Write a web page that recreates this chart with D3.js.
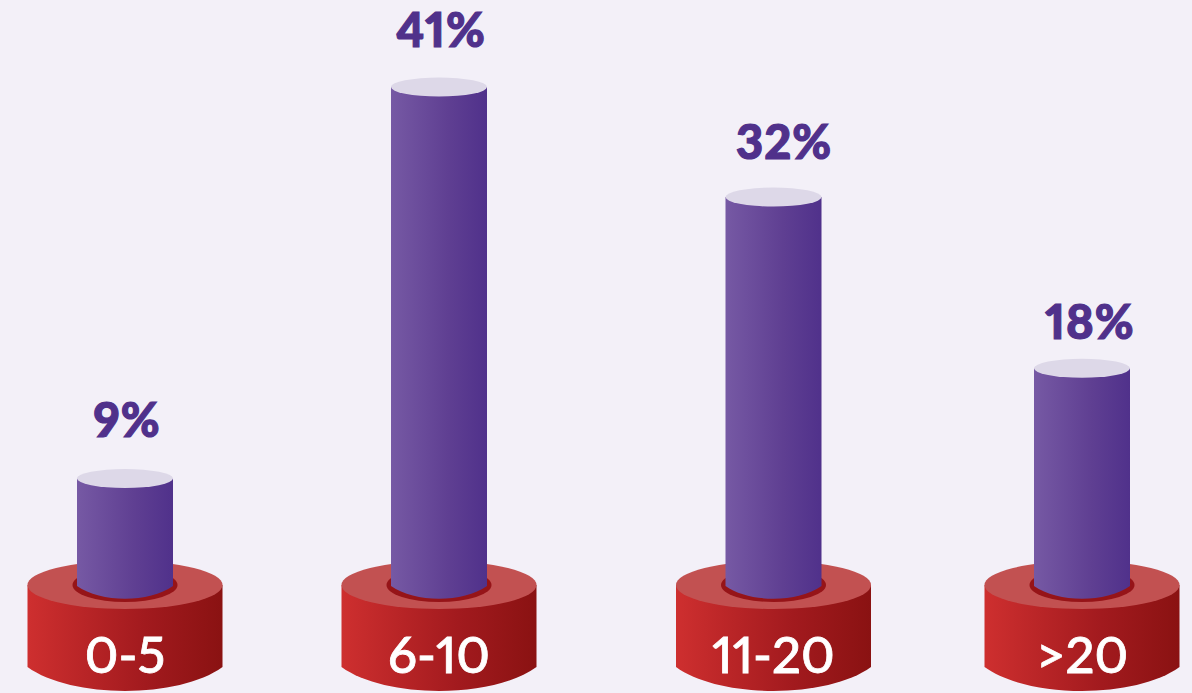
<!DOCTYPE html>
<html lang="en">
<head>
<meta charset="UTF-8">
<title>Cylinder chart</title>
<script src="https://d3js.org/d3.v7.min.js"></script>
<style>
    html, body { margin: 0; padding: 0; background: #f3f0f8; }
    svg { display: block; }
    text { font-family: Lato, sans-serif; text-anchor: middle; font-variant-numeric: proportional-nums; }
    .value { font-size: 47px; font-weight: 900; fill: #50318b; stroke: #50318b; stroke-width: 1.2px; letter-spacing: 1px; }
    .category { font-size: 51px; font-weight: 500; fill: #fff; stroke: #fff; stroke-width: 0.8px; }
</style>
</head>
<body>
<div id="chart"></div>
<script>
const categories = ["0-5", "6-10", "11-20", ">20"];
const values = [9, 41, 32, 18];

const width = 1192, height = 693;

const svg = d3.select("#chart").append("svg")
    .attr("width", width)
    .attr("height", height);

// the columns are not evenly spaced in the original
const x = d3.scaleOrdinal().domain(categories).range([125, 439, 773.5, 1082]);
const y = d3.scaleLinear().domain([0, 41]).range([588.5, 87]);

// value labels sit at slightly different spots above each column
const labelX = d3.scaleOrdinal().domain(categories).range([2, 2, 10.5, 8]);
const labelY = d3.scaleOrdinal().domain(categories).range([437, 47, 159, 339]);

// horizontal shading
const defs = svg.append("defs");
function addGradient(id, from, mid, to) {
    const g = defs.append("linearGradient").attr("id", id);
    g.append("stop").attr("offset", "0%").attr("stop-color", from);
    g.append("stop").attr("offset", "60%").attr("stop-color", mid);
    g.append("stop").attr("offset", "100%").attr("stop-color", to);
}
addGradient("barFill", "#7659a4", "#5f3f92", "#50318b");
addGradient("baseFill", "#ce2f2f", "#a21a1e", "#8a1212");

const baseRx = 97.5, baseRy = 24, baseTop = 585, baseBottom = 667;
const holeRx = 52.5, holeRy = 17;
const barRx = 48, barRy = 9.5, barFoot = 586;

const columns = svg.selectAll("g.column")
    .data(categories.map((c, i) => ({ category: c, value: values[i] })))
    .join("g")
    .attr("class", "column")
    .attr("transform", d => `translate(${x(d.category)},0)`);

// red base
columns.append("path")
    .attr("fill", "url(#baseFill)")
    .attr("d", () => {
        const p = d3.path();
        p.moveTo(-baseRx, baseTop);
        p.lineTo(-baseRx, baseBottom);
        p.bezierCurveTo(-baseRx * 0.55, baseBottom + baseRy * 1.33, baseRx * 0.55, baseBottom + baseRy * 1.33, baseRx, baseBottom);
        p.lineTo(baseRx, baseTop);
        p.closePath();
        return p.toString();
    });

columns.append("ellipse")
    .attr("cy", baseTop)
    .attr("rx", baseRx)
    .attr("ry", baseRy)
    .attr("fill", "#c25151");

columns.append("ellipse")
    .attr("cy", baseTop)
    .attr("rx", holeRx)
    .attr("ry", holeRy)
    .attr("fill", "#961418");

// purple column
columns.append("path")
    .attr("fill", "url(#barFill)")
    .attr("d", d => {
        const p = d3.path();
        p.moveTo(-barRx, y(d.value));
        p.lineTo(-barRx, barFoot);
        p.bezierCurveTo(-barRx * 0.5, barFoot + 17, barRx * 0.5, barFoot + 17, barRx, barFoot);
        p.lineTo(barRx, y(d.value));
        p.closePath();
        return p.toString();
    });

columns.append("ellipse")
    .attr("cy", d => y(d.value))
    .attr("rx", barRx)
    .attr("ry", barRy)
    .attr("fill", "#ddd8e8");

columns.append("text")
    .attr("class", "value")
    .attr("x", d => labelX(d.category))
    .attr("y", d => labelY(d.category))
    .text(d => d.value + "%");

columns.append("text")
    .attr("class", "category")
    .attr("y", 673)
    .text(d => d.category);
</script>
</body>
</html>
